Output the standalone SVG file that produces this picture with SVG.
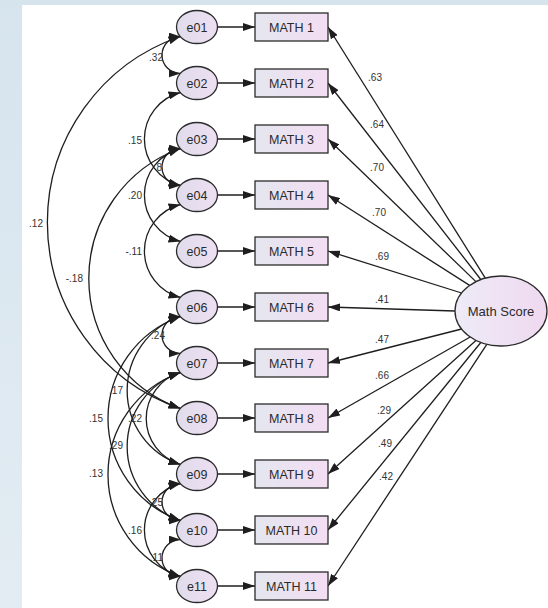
<svg xmlns="http://www.w3.org/2000/svg" width="548" height="608" viewBox="0 0 548 608">
  <defs>
    <linearGradient id="bgGrad" x1="0" y1="0" x2="0" y2="1">
      <stop offset="0" stop-color="#d6e4ee"/>
      <stop offset="1" stop-color="#e3ecf3"/>
    </linearGradient>
    <linearGradient id="boxFill" x1="0" y1="0" x2="1" y2="0">
      <stop offset="0" stop-color="#e4e6ef"/>
      <stop offset="1" stop-color="#f3ddf3"/>
    </linearGradient>
    <linearGradient id="errFill" x1="0" y1="0" x2="1" y2="0">
      <stop offset="0" stop-color="#e0dcec"/>
      <stop offset="1" stop-color="#eddff2"/>
    </linearGradient>
    <linearGradient id="latFill" x1="0" y1="0" x2="1" y2="0">
      <stop offset="0" stop-color="#eeebf7"/>
      <stop offset="1" stop-color="#efd9f0"/>
    </linearGradient>
    <marker id="arrow" viewBox="0 0 12 8" refX="12" refY="4" markerWidth="12" markerHeight="8" markerUnits="userSpaceOnUse" orient="auto-start-reverse">
      <path d="M0,0 L12,4 L0,8 z" fill="#1e1e1e"/>
    </marker>
    <style>
      .err { fill: url(#errFill); stroke: #2b2b2b; stroke-width: 1.3; }
      .box { fill: url(#boxFill); stroke: #2b2b2b; stroke-width: 1.3; }
      .lat { fill: url(#latFill); stroke: #2b2b2b; stroke-width: 1.3; }
      .lbl { font-family: "Liberation Sans", Arial, sans-serif; font-size: 12.5px; fill: #2a2a2a; text-anchor: middle; }
      .num { font-family: "Liberation Sans", Arial, sans-serif; font-size: 10px; fill: #333; }
      .path { fill: none; stroke: #1e1e1e; stroke-width: 1.3; marker-end: url(#arrow); }
      .cov { fill: none; stroke: #1e1e1e; stroke-width: 1.3; marker-start: url(#arrow); marker-end: url(#arrow); }
    </style>
  </defs>

  <!-- page background -->
  <rect x="0" y="0" width="548" height="608" fill="url(#bgGrad)"/>
  <rect x="22" y="5" width="526" height="603" fill="#ffffff"/>

  <!-- connectors -->
  <g id="connectors">
    <!-- error terms to indicators -->
    <line class="path" x1="217.5" y1="27" x2="255" y2="27"/>
    <line class="path" x1="217.5" y1="83" x2="255" y2="83"/>
    <line class="path" x1="217.5" y1="139" x2="255" y2="139"/>
    <line class="path" x1="217.5" y1="195" x2="255" y2="195"/>
    <line class="path" x1="217.5" y1="251" x2="255" y2="251"/>
    <line class="path" x1="217.5" y1="307" x2="255" y2="307"/>
    <line class="path" x1="217.5" y1="363" x2="255" y2="363"/>
    <line class="path" x1="217.5" y1="418" x2="255" y2="418"/>
    <line class="path" x1="217.5" y1="474" x2="255" y2="474"/>
    <line class="path" x1="217.5" y1="530" x2="255" y2="530"/>
    <line class="path" x1="217.5" y1="586" x2="255" y2="586"/>

    <!-- factor loadings -->
    <line class="path" x1="485.3" y1="278.1" x2="328" y2="27"/>
    <line class="path" x1="480.8" y1="279.5" x2="328" y2="83"/>
    <line class="path" x1="475.9" y1="281.6" x2="328" y2="139"/>
    <line class="path" x1="469.6" y1="285.4" x2="328" y2="195"/>
    <line class="path" x1="461.6" y1="293" x2="328" y2="251"/>
    <line class="path" x1="455" y1="311" x2="328" y2="307"/>
    <line class="path" x1="461.6" y1="329" x2="328" y2="363"/>
    <line class="path" x1="470.2" y1="337" x2="328" y2="418"/>
    <line class="path" x1="475.9" y1="340.4" x2="328" y2="474"/>
    <line class="path" x1="480.8" y1="342.5" x2="328" y2="530"/>
    <line class="path" x1="486.8" y1="344.3" x2="328" y2="586"/>

    <!-- error covariances -->
    <path class="cov" d="M180.5,36.5 A18.5,18.5 0 0 0 180.5,73.5"/>
    <path class="cov" d="M180.5,92.5 A48,48 0 0 0 180.5,185.5"/>
    <path class="cov" d="M180.5,148.5 A18.5,18.5 0 0 0 180.5,185.5"/>
    <path class="cov" d="M180.5,148.5 A48,48 0 0 0 180.5,241.5"/>
    <path class="cov" d="M180.5,204.5 A48,48 0 0 0 180.5,297.5"/>
    <path class="cov" d="M180.5,36.5 A196.5,196.5 0 0 0 180.5,408.5"/>
    <path class="cov" d="M180.5,148.5 A138,138 0 0 0 180.5,408.5"/>
    <path class="cov" d="M180.5,316.5 A18.5,18.5 0 0 0 180.5,353.5"/>
    <path class="cov" d="M180.5,316.5 A78,78 0 0 0 180.5,464.5"/>
    <path class="cov" d="M180.5,316.5 A108,108 0 0 0 180.5,520.5"/>
    <path class="cov" d="M180.5,372.5 A48,48 0 0 0 180.5,464.5"/>
    <path class="cov" d="M180.5,372.5 A78,78 0 0 0 180.5,520.5"/>
    <path class="cov" d="M180.5,372.5 A108,108 0 0 0 180.5,576.5"/>
    <path class="cov" d="M180.5,483.5 A18.5,18.5 0 0 0 180.5,520.5"/>
    <path class="cov" d="M180.5,483.5 A48,48 0 0 0 180.5,576.5"/>
    <path class="cov" d="M180.5,539.5 A18.5,18.5 0 0 0 180.5,576.5"/>

    <!-- covariance values -->
    <g class="num" text-anchor="end">
      <text x="163" y="60.5">.32</text>
      <text x="142" y="143.5">.15</text>
      <text x="162" y="170.5">8</text>
      <text x="142" y="199">.20</text>
      <text x="142" y="255">-.11</text>
      <text x="43" y="226.5">.12</text>
      <text x="83" y="282">-.18</text>
      <text x="165" y="338.5">.24</text>
      <text x="123" y="393.5">.17</text>
      <text x="103" y="421.5">.15</text>
      <text x="142" y="421.5">.22</text>
      <text x="123" y="448.5">.29</text>
      <text x="103" y="476.5">.13</text>
      <text x="163" y="505.5">.25</text>
      <text x="142" y="533.5">.16</text>
      <text x="163" y="561">.11</text>
    </g>

    <!-- loading values -->
    <g class="num" text-anchor="middle">
      <text x="375" y="81">.63</text>
      <text x="377" y="128">.64</text>
      <text x="377" y="171">.70</text>
      <text x="379" y="216">.70</text>
      <text x="382" y="260">.69</text>
      <text x="382" y="303">.41</text>
      <text x="382" y="343">.47</text>
      <text x="382" y="379">.66</text>
      <text x="384" y="414">.29</text>
      <text x="385" y="447">.49</text>
      <text x="386" y="480">.42</text>
    </g>
  </g>

  <!-- error terms -->
  <g id="e01"><ellipse class="err" cx="197" cy="27" rx="20.5" ry="16.5"/><text class="lbl" x="197" y="31.5">e01</text></g>
  <g id="e02"><ellipse class="err" cx="197" cy="83" rx="20.5" ry="16.5"/><text class="lbl" x="197" y="87.5">e02</text></g>
  <g id="e03"><ellipse class="err" cx="197" cy="139" rx="20.5" ry="16.5"/><text class="lbl" x="197" y="143.5">e03</text></g>
  <g id="e04"><ellipse class="err" cx="197" cy="195" rx="20.5" ry="16.5"/><text class="lbl" x="197" y="199.5">e04</text></g>
  <g id="e05"><ellipse class="err" cx="197" cy="251" rx="20.5" ry="16.5"/><text class="lbl" x="197" y="255.5">e05</text></g>
  <g id="e06"><ellipse class="err" cx="197" cy="307" rx="20.5" ry="16.5"/><text class="lbl" x="197" y="311.5">e06</text></g>
  <g id="e07"><ellipse class="err" cx="197" cy="363" rx="20.5" ry="16.5"/><text class="lbl" x="197" y="367.5">e07</text></g>
  <g id="e08"><ellipse class="err" cx="197" cy="418" rx="20.5" ry="16.5"/><text class="lbl" x="197" y="422.5">e08</text></g>
  <g id="e09"><ellipse class="err" cx="197" cy="474" rx="20.5" ry="16.5"/><text class="lbl" x="197" y="478.5">e09</text></g>
  <g id="e10"><ellipse class="err" cx="197" cy="530" rx="20.5" ry="16.5"/><text class="lbl" x="197" y="534.5">e10</text></g>
  <g id="e11"><ellipse class="err" cx="197" cy="586" rx="20.5" ry="16.5"/><text class="lbl" x="197" y="590.5">e11</text></g>

  <!-- observed indicators -->
  <g id="math1"><rect class="box" x="255" y="13" width="73" height="28"/><text class="lbl" x="291.5" y="31.5">MATH 1</text></g>
  <g id="math2"><rect class="box" x="255" y="69" width="73" height="28"/><text class="lbl" x="291.5" y="87.5">MATH 2</text></g>
  <g id="math3"><rect class="box" x="255" y="125" width="73" height="28"/><text class="lbl" x="291.5" y="143.5">MATH 3</text></g>
  <g id="math4"><rect class="box" x="255" y="181" width="73" height="28"/><text class="lbl" x="291.5" y="199.5">MATH 4</text></g>
  <g id="math5"><rect class="box" x="255" y="237" width="73" height="28"/><text class="lbl" x="291.5" y="255.5">MATH 5</text></g>
  <g id="math6"><rect class="box" x="255" y="293" width="73" height="28"/><text class="lbl" x="291.5" y="311.5">MATH 6</text></g>
  <g id="math7"><rect class="box" x="255" y="349" width="73" height="28"/><text class="lbl" x="291.5" y="367.5">MATH 7</text></g>
  <g id="math8"><rect class="box" x="255" y="404" width="73" height="28"/><text class="lbl" x="291.5" y="422.5">MATH 8</text></g>
  <g id="math9"><rect class="box" x="255" y="460" width="73" height="28"/><text class="lbl" x="291.5" y="478.5">MATH 9</text></g>
  <g id="math10"><rect class="box" x="255" y="516" width="73" height="28"/><text class="lbl" x="291.5" y="534.5">MATH 10</text></g>
  <g id="math11"><rect class="box" x="255" y="572" width="73" height="28"/><text class="lbl" x="291.5" y="590.5">MATH 11</text></g>

  <!-- latent factor -->
  <g id="mathScore"><ellipse class="lat" cx="501" cy="311" rx="46" ry="35"/><text class="lbl" x="501" y="315.5" style="font-size:13px">Math Score</text></g>
</svg>
